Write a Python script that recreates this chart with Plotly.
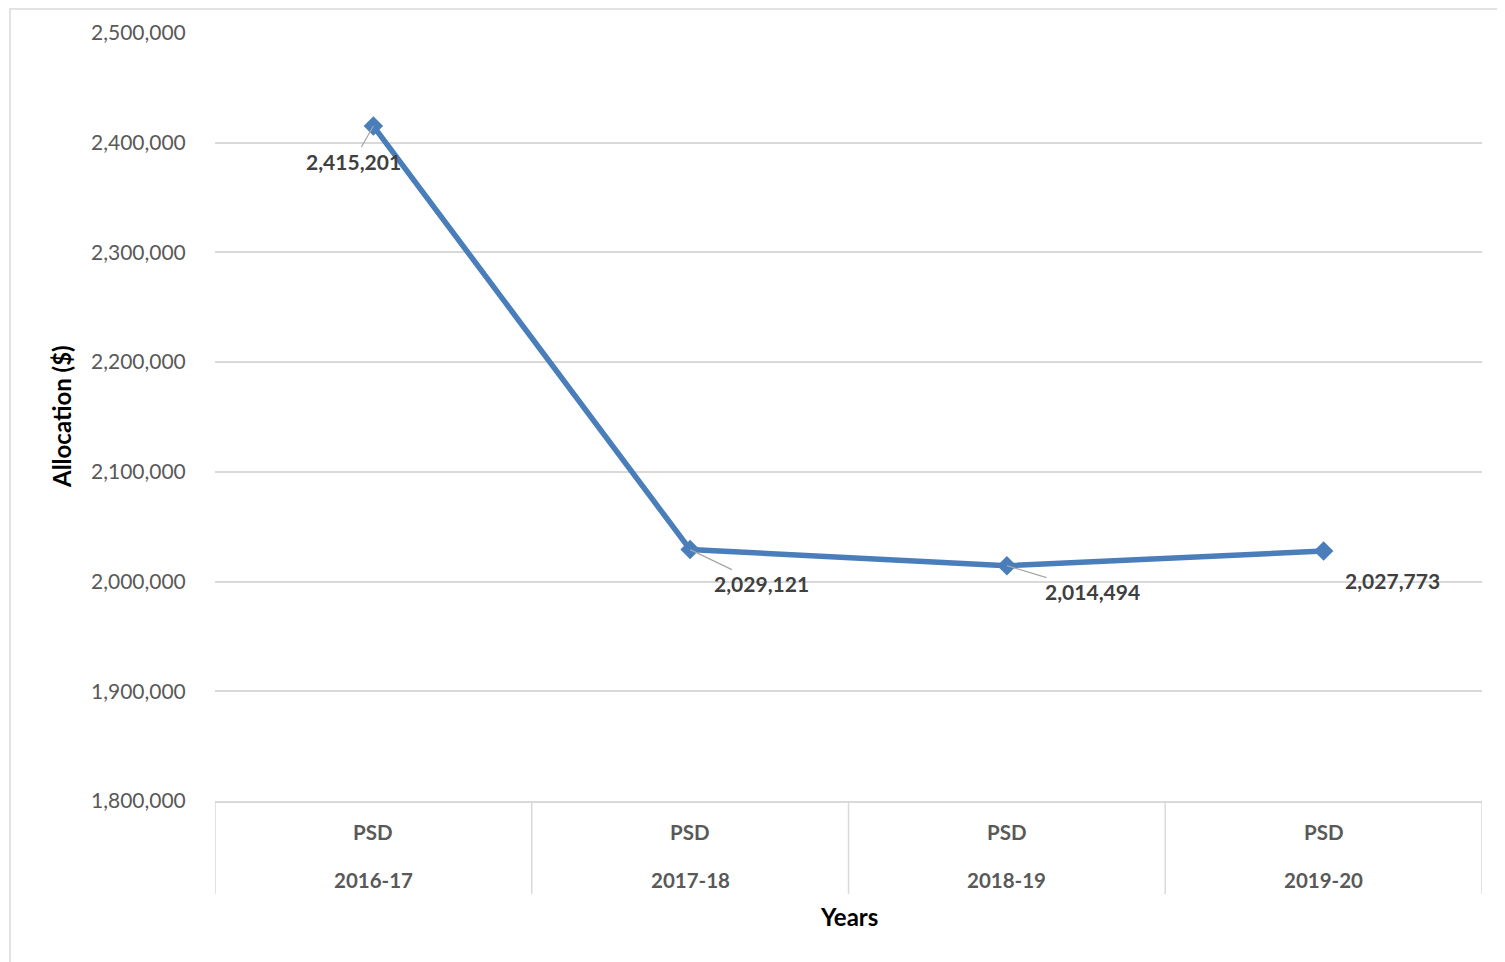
import plotly.graph_objects as go

categories = ["2016-17", "2017-18", "2018-19", "2019-20"]
group_label = "PSD"
values = [2415201, 2029121, 2014494, 2027773]
y_ticks = [1800000, 1900000, 2000000, 2100000, 2200000, 2300000, 2400000, 2500000]
# label offsets in pixels (dx, dy) relative to the point, and whether a leader line is drawn
label_offsets = [(-20, 35, True), (71, 34, True), (86, 26, True), (69, 29, False)]

FONT = "Lato"
LINE_COLOR = "#4A7EBB"
GRID = "#D9D9D9"

OFF = 8  # page body offset
W, H = 1505 - OFF, 962 - OFF
L, T = 215 - OFF, 33 - OFF
R, B = 23, 161
plot_h = H - T - B
plot_w = W - L - R

def py(px):
    # screen pixel y -> paper y
    return 1 - (px - OFF - T) / plot_h

def pxr(px):
    return (px - OFF - L) / plot_w

xs = list(range(len(categories)))

fig = go.Figure()
fig.add_trace(go.Scatter(
    x=xs, y=values, mode="lines+markers",
    line=dict(color=LINE_COLOR, width=5.5),
    marker=dict(symbol="diamond", size=15, color=LINE_COLOR),
    hoverinfo="skip", showlegend=False,
))

annotations = []
for i, v in enumerate(values):
    dx, dy, arrow = label_offsets[i]
    txt = f"<b>{v:,}</b>"
    if arrow:
        annotations.append(dict(
            x=i, y=v, xref="x", yref="y", text=txt, showarrow=True,
            ax=dx, ay=dy, arrowhead=0, arrowwidth=1.2, arrowcolor="#A6A6A6",
            font=dict(family=FONT, size=21, color="#404040"),
        ))
    else:
        annotations.append(dict(
            x=i, y=v, xref="x", yref="y", text=txt, showarrow=False,
            xshift=dx, yshift=-dy,
            font=dict(family=FONT, size=21, color="#404040"),
        ))
    # category labels
    annotations.append(dict(
        x=i, y=py(832), xref="x", yref="paper", text=f"<b>{group_label}</b>",
        showarrow=False, xanchor="center", yanchor="middle",
        font=dict(family=FONT, size=20.5, color="#595959"),
    ))
    annotations.append(dict(
        x=i, y=py(880), xref="x", yref="paper", text=f"<b>{categories[i]}</b>",
        showarrow=False, xanchor="center", yanchor="middle",
        font=dict(family=FONT, size=20.5, color="#595959"),
    ))

annotations.append(dict(
    x=0.5, y=py(916), xref="paper", yref="paper", text="<b>Years</b>",
    showarrow=False, xanchor="center", yanchor="middle",
    font=dict(family=FONT, size=24, color="#000000"),
))
annotations.append(dict(
    x=pxr(61), y=py(417), xref="paper", yref="paper", text="<b>Allocation ($)</b>",
    textangle=-90, showarrow=False, xanchor="center", yanchor="middle",
    font=dict(family=FONT, size=24, color="#000000"),
))

shapes = []
# category separators
for k in range(len(categories) + 1):
    shapes.append(dict(
        type="line", xref="x", yref="paper", x0=k - 0.5, x1=k - 0.5,
        y0=py(801), y1=py(894), line=dict(color=GRID, width=1.5),
    ))
# outer chart border
shapes.append(dict(
    type="rect", xref="paper", yref="paper",
    x0=pxr(10), x1=pxr(1540), y0=py(1000), y1=py(9),
    line=dict(color="#D9D9D9", width=1.5), fillcolor="rgba(0,0,0,0)", layer="below",
))

fig.update_layout(
    width=W, height=H,
    margin=dict(l=L, r=R, t=T, b=B, pad=0),
    paper_bgcolor="white", plot_bgcolor="white",
    xaxis=dict(
        range=[-0.5, len(categories) - 0.5], showticklabels=False, showgrid=False,
        zeroline=False, showline=True, linecolor=GRID, linewidth=1.5, mirror=False,
        fixedrange=True,
    ),
    yaxis=dict(
        range=[y_ticks[0], y_ticks[-1]], tickvals=y_ticks,
        ticktext=[f"{t:,}" for t in y_ticks],
        tickfont=dict(family=FONT, size=21, color="#595959"),
        showgrid=True, gridcolor=GRID, gridwidth=1.5, zeroline=False,
        showline=False, ticks="outside", ticklen=24, tickcolor="rgba(0,0,0,0)",
        fixedrange=True,
    ),
    annotations=annotations, shapes=shapes,
)

fig.write_html("out.html")
